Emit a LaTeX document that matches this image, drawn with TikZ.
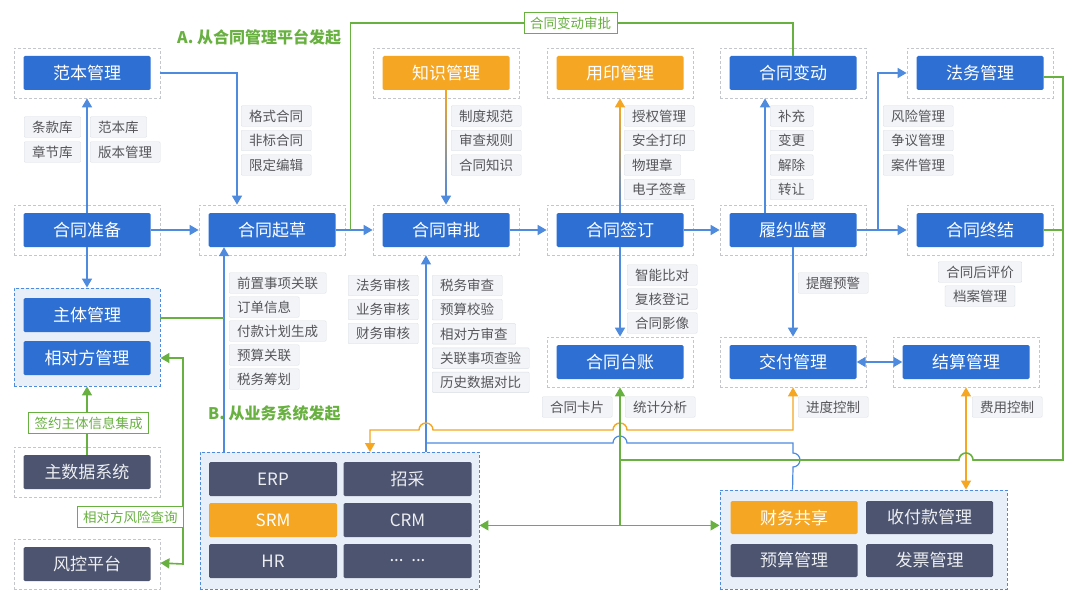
\documentclass[tikz,border=0pt]{standalone}
\usepackage{fontspec}
\setmainfont{Noto Sans CJK SC}
\usetikzlibrary{arrows.meta,calc}
\definecolor{mblue}{RGB}{45,111,210}
\definecolor{lblue}{RGB}{78,138,222}
\definecolor{morange}{RGB}{245,166,35}
\definecolor{slate}{RGB}{76,84,112}
\definecolor{mgreen}{RGB}{104,176,64}
\definecolor{tagfill}{RGB}{242,244,247}
\definecolor{tagline}{RGB}{218,222,228}
\definecolor{tagtext}{RGB}{85,85,90}
\definecolor{dashgray}{RGB}{195,198,204}
\definecolor{grpfill}{RGB}{233,239,249}
\tikzset{
  dbox/.style={draw=dashgray, dash pattern=on 3pt off 2pt, line width=0.8pt, minimum width=146pt, minimum height=50pt, inner sep=0pt},
  mbox/.style={fill=mblue, text=white, rounded corners=1.5pt, minimum width=127pt, minimum height=34pt, inner sep=0pt, font=\fontsize{17}{17}\selectfont},
  obox/.style={mbox, fill=morange},
  sbox/.style={mbox, fill=slate, text=white!90!slate},
  grp/.style={draw=lblue, dash pattern=on 3pt off 2pt, line width=0.9pt, fill=grpfill, inner sep=0pt},
  tagbox/.style={fill=tagfill, draw=tagline, text=tagtext, rounded corners=1pt, inner xsep=8pt, inner ysep=0pt, minimum height=20.5pt, font=\fontsize{13.5}{13.5}\selectfont, anchor=west},
  glabel/.style={draw=mgreen, fill=white, text=mgreen, line width=1pt, inner xsep=6pt, inner ysep=0pt, minimum height=21pt, font=\fontsize{13.5}{13.5}\selectfont},
  ttl/.style={text=mgreen, font=\bfseries\fontsize{16}{16}\selectfont, anchor=west, inner sep=0pt},
  bline/.style={draw=lblue, line width=1.6pt},
  bthin/.style={draw=lblue, line width=1.2pt},
  gline/.style={draw=mgreen, line width=1.6pt},
  oline/.style={draw=morange, line width=1.4pt},
  arr/.style={-{Triangle[length=9pt,width=10pt]}},
  darr/.style={{Triangle[length=9pt,width=10pt]}-{Triangle[length=9pt,width=10pt]}}
}
\begin{document}
\begin{tikzpicture}[x=1pt,y=-1pt]
\useasboundingbox (0,0) rectangle (1080,602);
\fill[white] (0,0) rectangle (1080,602);
\pgfmathsetmacro{\rowa}{73}
\pgfmathsetmacro{\rowb}{230}
\pgfmathsetmacro{\rowc}{362}

% group backgrounds
\node[grp, minimum width=146pt, minimum height=98pt] (zhutiG) at (87,337) {};
\node[grp, minimum width=279pt, minimum height=137pt] (yewu) at (339.5,520.5) {};
\node[grp, minimum width=287pt, minimum height=99pt] (caiwu) at (863.5,539.5) {};

% dashed frames
\node[dbox] (fanbenO) at (87,\rowa) {};
\node[dbox] (zhishiO) at (446,\rowa) {};
\node[dbox] (yongyinO) at (620,\rowa) {};
\node[dbox] (biandongO) at (793,\rowa) {};
\node[dbox] (fawuO) at (980,\rowa) {};
\node[dbox] (zhunbeiO) at (87,\rowb) {};
\node[dbox] (qicaoO) at (272,\rowb) {};
\node[dbox] (shenpiO) at (446,\rowb) {};
\node[dbox] (qiandingO) at (620,\rowb) {};
\node[dbox] (lvyueO) at (793,\rowb) {};
\node[dbox] (zhongjieO) at (980,\rowb) {};
\node[dbox] (taizhangO) at (620,\rowc) {};
\node[dbox] (jiaofuO) at (793,\rowc) {};
\node[dbox] (jiesuanO) at (966,\rowc) {};
\node[dbox] (zhushujuO) at (87,472) {};
\node[dbox] (fengkongO) at (87,564) {};

% main boxes
\node[mbox] (fanben) at (fanbenO) {范本管理};
\node[obox] (zhishi) at (zhishiO) {知识管理};
\node[obox] (yongyin) at (yongyinO) {用印管理};
\node[mbox] (biandong) at (biandongO) {合同变动};
\node[mbox] (fawu) at (fawuO) {法务管理};
\node[mbox] (zhunbei) at (zhunbeiO) {合同准备};
\node[mbox] (qicao) at (qicaoO) {合同起草};
\node[mbox] (shenpi) at (shenpiO) {合同审批};
\node[mbox] (qianding) at (qiandingO) {合同签订};
\node[mbox] (lvyue) at (lvyueO) {履约监督};
\node[mbox] (zhongjie) at (zhongjieO) {合同终结};
\node[mbox] (taizhang) at (taizhangO) {合同台账};
\node[mbox] (jiaofu) at (jiaofuO) {交付管理};
\node[mbox] (jiesuan) at (jiesuanO) {结算管理};
\node[mbox] (zhuti) at (87,315) {主体管理};
\node[mbox] (xiangdui) at (87,358) {相对方管理};
\node[sbox] (zhushuju) at (zhushujuO) {主数据系统};
\node[sbox] (fengkong) at (fengkongO) {风控平台};

% business systems
\node[sbox, minimum width=128pt] (erp) at (273,479) {ERP};
\node[sbox, minimum width=128pt] (zhaocai) at (407.5,479) {招采};
\node[obox, minimum width=128pt] (srm) at (273,520) {SRM};
\node[sbox, minimum width=128pt] (crm) at (407.5,520) {CRM};
\node[sbox, minimum width=128pt] (hr) at (273,561) {HR};
\node[sbox, minimum width=128pt] (more) at (407.5,561) {...\ \ ...};
\node[obox, minimum height=33pt] (gongxiang) at (794,517.5) {财务共享};
\node[sbox, minimum height=33pt] (shoufu) at (929.5,517.5) {收付款管理};
\node[sbox, minimum height=33pt] (yusuan) at (794,560.5) {预算管理};
\node[sbox, minimum height=33pt] (fapiao) at (929.5,560.5) {发票管理};

% titles
\node[ttl] (titleA) at (177,37) {A. 从合同管理平台发起};
\node[ttl] (titleB) at (208,413) {B. 从业务系统发起};

% tags
\node[tagbox] (tk) at (24,127) {条款库};
\node[tagbox] (fb) at (90,127) {范本库};
\node[tagbox] (zj) at (24,152) {章节库};
\node[tagbox] (bb) at (90,152) {版本管理};
\foreach \t [count=\i from 0] in {格式合同,非标合同,限定编辑}
  \node[tagbox] (gs\i) at (241,{116+24.5*\i}) {\t};
\foreach \t [count=\i from 0] in {制度规范,审查规则,合同知识}
  \node[tagbox] (zd\i) at (451,{116+24.5*\i}) {\t};
\foreach \t [count=\i from 0] in {授权管理,安全打印,物理章,电子签章}
  \node[tagbox] (sq\i) at (624,{116+24.5*\i}) {\t};
\foreach \t [count=\i from 0] in {补充,变更,解除,转让}
  \node[tagbox] (bc\i) at (770,{116+24.5*\i}) {\t};
\foreach \t [count=\i from 0] in {风险管理,争议管理,案件管理}
  \node[tagbox] (fx\i) at (883,{116+24.5*\i}) {\t};
\foreach \t [count=\i from 0] in {前置事项关联,订单信息,付款计划生成,预算关联,税务筹划}
  \node[tagbox] (qz\i) at (229,{283+24*\i}) {\t};
\foreach \t [count=\i from 0] in {法务审核,业务审核,财务审核}
  \node[tagbox] (fw\i) at (348,{285.5+24*\i}) {\t};
\foreach \t [count=\i from 0] in {税务审查,预算校验,相对方审查,关联事项查验,历史数据对比}
  \node[tagbox] (sw\i) at (432,{285.5+24.2*\i}) {\t};
\foreach \t [count=\i from 0] in {智能比对,复核登记,合同影像}
  \node[tagbox] (zn\i) at (627,{275+24*\i}) {\t};
\node[tagbox, anchor=center] (hpj) at (980,272) {合同后评价};
\node[tagbox, anchor=center] (dagl) at (980,296) {档案管理};
\node[tagbox] (txyj) at (798,283) {提醒预警};
\node[tagbox] (htkp) at (542,407) {合同卡片};
\node[tagbox] (tjfx) at (625,407) {统计分析};
\node[tagbox] (jdkz) at (798,407) {进度控制};
\node[tagbox] (fykz) at (972,407) {费用控制};

% helper points
\coordinate (qb) at ($(qicao.south)+(-48,0)$);
\coordinate (sb) at ($(shenpiO.south)+(-20,0)$);
\coordinate (fx) at (183,460);
\coordinate (gr) at (1063,460);
\coordinate (cb) at ($(caiwu.north west)+(73,0)$);

% main flow
\draw[bline,arr] (zhunbei.east) -- (qicaoO.west);
\draw[bline,arr] (qicao.east) -- (shenpiO.west);
\draw[bline,arr] (shenpi.east) -- (qiandingO.west);
\draw[bline,arr] (qianding.east) -- (lvyueO.west);
\draw[bline,arr] (lvyue.east) -- (zhongjieO.west);
\draw[bline,arr] ($(lvyue.east)+(21,0)$) |- (fawuO.west);
\draw[bline,arr] (zhunbei.north) -- (fanbenO.south);
\draw[bline,arr] (zhunbei.south) -- (zhutiG.north);
\draw[bline,arr] (fanbenO.east) -| ($(qicaoO.north)+(-35,0)$);
\draw[bline,arr] ($(lvyue.north)+(-28,0)$) -- ($(biandongO.south)+(-28,0)$);
\draw[bline,arr] (lvyue.south) -- (jiaofuO.north);
\draw[bline,arr] (qianding.south) -- (taizhangO.north);
\draw[bline,darr] (jiaofu.east) -- (jiesuan.west);

% knowledge and seal lines
\shade[top color=morange, bottom color=lblue] ($(zhishi.south)+(-0.8,0)$) rectangle ($(shenpiO.north)+(0.8,-8)$);
\draw[bline,arr] ($(shenpiO.north)+(0,-10)$) -- (shenpiO.north);
\shade[top color=morange, bottom color=lblue] ($(yongyinO.south)+(-0.8,8)$) rectangle ($(qianding.north)+(0.8,0)$);
\draw[oline,line width=1.6pt,arr] ($(yongyinO.south)+(0,10)$) -- (yongyinO.south);

% from business systems
\draw[bthin,arr] (qb |- yewu.north) -- (qb);
\draw[bthin,arr] (sb |- yewu.north) -- (sb);
\draw[bthin] (426,443) -- (613,443) arc[start angle=180, end angle=0, radius=7pt]
  -- (793,443) -- (793,453) arc[start angle=90, end angle=-90, radius=7pt] -- (cb);
\draw[oline,darr] (jiaofuO.south) -- (793,430) -- (627,430)
  arc[start angle=0, end angle=180, radius=7pt] -- (433,430)
  arc[start angle=0, end angle=180, radius=7pt] -- (370,430) -- (370,452);
\draw[oline,darr] (jiesuanO.south) -- (jiesuanO.south |- caiwu.north);

% green links
\draw[gline] (zhutiG.east |- 0,318) -- (qb |- 0,318);
\draw[gline,darr] (zhutiG.east |- xiangdui) -- (xiangdui -| fx) -- (fengkong -| fx) -- (fengkongO.east |- 0,563);
\draw[gline,arr] (zhushuju.north) -- (zhutiG.south);
\draw[gline] ($(qicaoO.east)+(5,0)$) -- ++(0,-207) -| (biandong.north);
\coordinate (gj) at ($(taizhangO.south)+(0,138)$);
\draw[gline,darr] (taizhangO.south) -- (gj) -- (gj -| yewu.east);
\draw[gline,arr] (gj) -- (gj -| caiwu.west);
\draw[gline] (taizhangO.south |- gr) -- (959,460) arc[start angle=180, end angle=0, radius=7pt]
  -- (gr) -- (1063,77) -- (fawu.east |- 0,77);
\draw[gline] (zhongjie.east) -- (zhongjie.east -| gr);

% green labels
\node[glabel] (bdsp) at (570.5,23.5) {合同变动审批};
\node[glabel] (qyzt) at (88.5,423) {签约主体信息集成};
\node[glabel, anchor=east] (xdfx) at (184,517) {相对方风险查询};
\end{tikzpicture}
\end{document}
